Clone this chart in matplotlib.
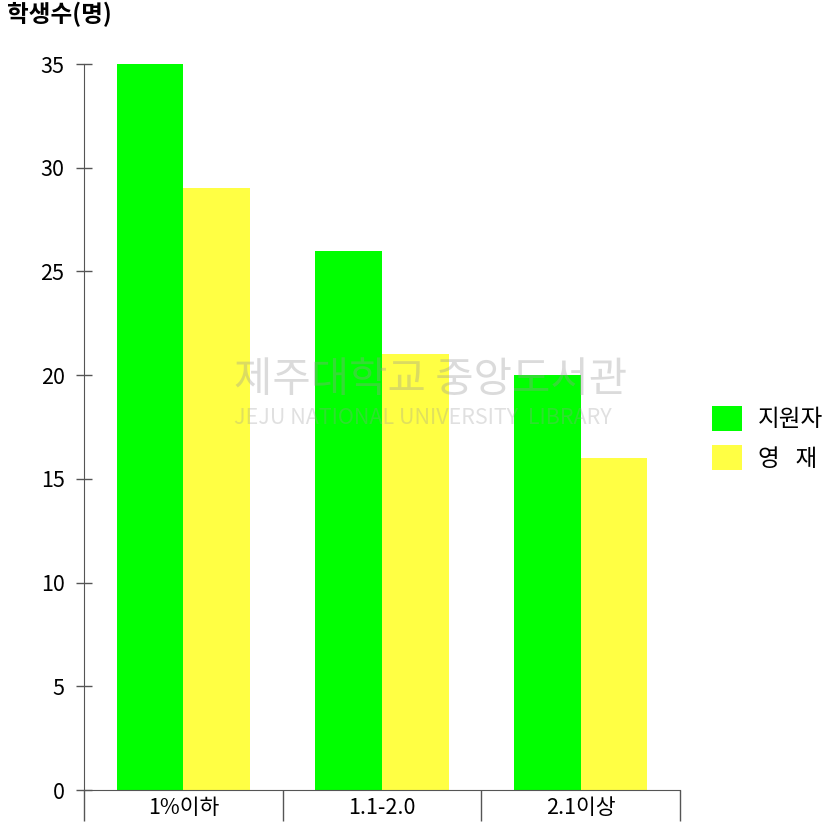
import matplotlib
matplotlib.use("Agg")
import matplotlib.pyplot as plt
import numpy as np

plt.rcParams['font.family'] = ['Noto Sans CJK KR', 'DejaVu Sans']

categories = ['1%이하', '1.1-2.0', '2.1이상']
applicants = [35, 26, 20]   # 지원자
gifted = [29, 21, 16]       # 영재
series_names = ['지원자', '영   재']
yticks = [0, 5, 10, 15, 20, 25, 30, 35]

fig = plt.figure(figsize=(8.35, 8.27), dpi=100)
ax = fig.add_axes([0.1006, 0.0447, 0.7138, 0.8779])

x = np.arange(len(categories))
w = 0.335
ax.bar(x - w / 2, applicants, w, color='#00ff00', label=series_names[0])
ax.bar(x + w / 2, gifted, w, color='#ffff44', label=series_names[1])

ax.set_xlim(-0.5, 2.5)
ax.set_ylim(0, 35)
ax.set_yticks(yticks)
ax.set_xticks([-0.5, 0.5, 1.5, 2.5])
ax.set_xticklabels([])
ax.set_xticks(x, minor=True)
ax.set_xticklabels(categories, minor=True, fontsize=15.5)
ax.tick_params(axis='x', which='major', direction='out', length=22, width=1, color='#555555')
ax.tick_params(axis='x', which='minor', length=0, pad=5)
ax.tick_params(axis='y', direction='inout', length=12, width=1, color='#555555', labelsize=15.5, pad=8)

for s in ['top', 'right']:
    ax.spines[s].set_visible(False)
for s in ['left', 'bottom']:
    ax.spines[s].set_color('#555555')

fig.text(0.008, 0.982, '학생수(명)', fontsize=17, fontweight='bold', va='center', ha='left')

# faint watermark
fig.text(0.28, 0.54, '제주대학교 중앙도서관', fontsize=30, color='#999999', alpha=0.35,
         va='center', ha='left')
fig.text(0.28, 0.495, 'JEJU NATIONAL UNIVERSITY  LIBRARY', fontsize=15.5, color='#999999', alpha=0.3,
         va='center', ha='left')

fig.legend(loc='center left', bbox_to_anchor=(0.853, 0.47), frameon=False, fontsize=17,
           handlelength=1.25, handleheight=1.25, handletextpad=0.7, labelspacing=0.6,
           borderaxespad=0, borderpad=0)

fig.savefig('out.png', dpi=100)
